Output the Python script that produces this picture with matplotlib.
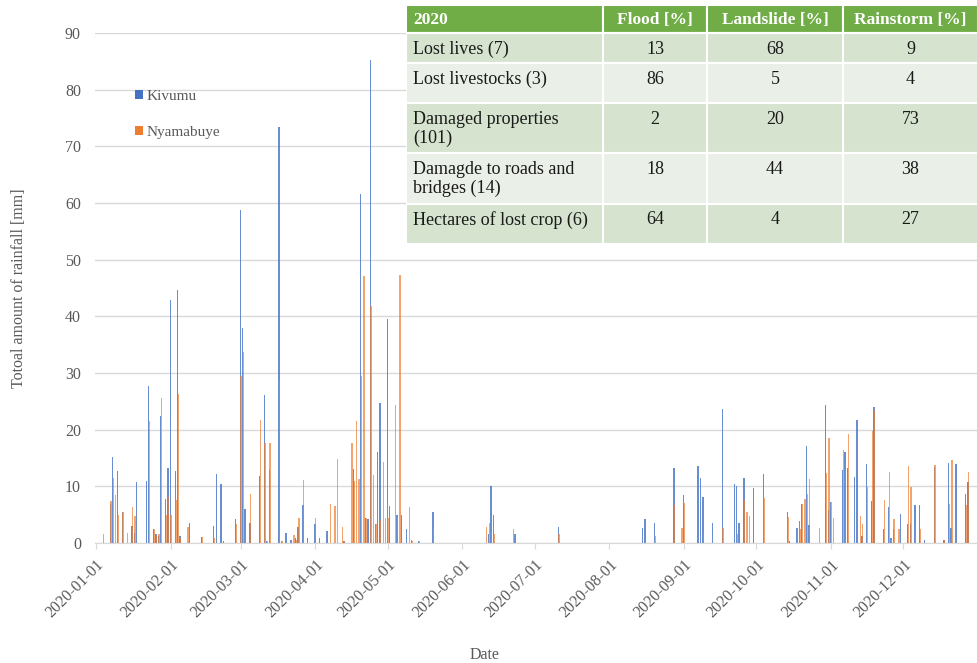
import matplotlib
matplotlib.use('Agg')
import matplotlib.pyplot as plt
import matplotlib.dates as mdates
from matplotlib.patches import Rectangle
import pandas as pd

plt.rcParams['font.family'] = ['Liberation Serif', 'DejaVu Serif']

# daily rainfall 2020 (only days with rain are listed)
dates = ['2020-01-04', '2020-01-07', '2020-01-08', '2020-01-09', '2020-01-10', '2020-01-12',
         '2020-01-14', '2020-01-16', '2020-01-17', '2020-01-18', '2020-01-22', '2020-01-23',
         '2020-01-25', '2020-01-26', '2020-01-27', '2020-01-28', '2020-01-30', '2020-01-31',
         '2020-02-01', '2020-02-03', '2020-02-04', '2020-02-05', '2020-02-08', '2020-02-09',
         '2020-02-14', '2020-02-19', '2020-02-20', '2020-02-22', '2020-02-23', '2020-02-28',
         '2020-03-01', '2020-03-02', '2020-03-03', '2020-03-05', '2020-03-09', '2020-03-11',
         '2020-03-12', '2020-03-13', '2020-03-17', '2020-03-18', '2020-03-20', '2020-03-22',
         '2020-03-23', '2020-03-24', '2020-03-25', '2020-03-27', '2020-03-29',
         '2020-04-01', '2020-04-03', '2020-04-06', '2020-04-07', '2020-04-09', '2020-04-10',
         '2020-04-12', '2020-04-13', '2020-04-16', '2020-04-17', '2020-04-18', '2020-04-19',
         '2020-04-20', '2020-04-21', '2020-04-22', '2020-04-23', '2020-04-24', '2020-04-25',
         '2020-04-26', '2020-04-27', '2020-04-28', '2020-04-29', '2020-04-30',
         '2020-05-01', '2020-05-02', '2020-05-04', '2020-05-05', '2020-05-06', '2020-05-07',
         '2020-05-09', '2020-05-10', '2020-05-11', '2020-05-14', '2020-05-20',
         '2020-06-11', '2020-06-12', '2020-06-13', '2020-06-14', '2020-06-22', '2020-06-23',
         '2020-07-11',
         '2020-08-15', '2020-08-16', '2020-08-20', '2020-08-28', '2020-08-31',
         '2020-09-01', '2020-09-07', '2020-09-08', '2020-09-09', '2020-09-13', '2020-09-17',
         '2020-09-22', '2020-09-23', '2020-09-24', '2020-09-26', '2020-09-27', '2020-09-28',
         '2020-09-30',
         '2020-10-04', '2020-10-14', '2020-10-15', '2020-10-18', '2020-10-19', '2020-10-20',
         '2020-10-21', '2020-10-22', '2020-10-23', '2020-10-27', '2020-10-30', '2020-10-31',
         '2020-11-01', '2020-11-02', '2020-11-06', '2020-11-07', '2020-11-08', '2020-11-11',
         '2020-11-12', '2020-11-13', '2020-11-14', '2020-11-16', '2020-11-18', '2020-11-19',
         '2020-11-23', '2020-11-25', '2020-11-26', '2020-11-27', '2020-11-29', '2020-11-30',
         '2020-12-03', '2020-12-04', '2020-12-06', '2020-12-08', '2020-12-10', '2020-12-14',
         '2020-12-18', '2020-12-20', '2020-12-21', '2020-12-23', '2020-12-27', '2020-12-28']

kivumu = [0, 6.8, 15.2, 0, 12.7, 5.5,
          0, 3.0, 1.8, 10.7, 11.0, 27.8,
          2.5, 1.5, 1.2, 22.5, 7.8, 13.3,
          42.9, 12.7, 44.7, 1.2, 0, 3.6,
          1.0, 3.0, 12.2, 10.5, 0.3, 4.3,
          58.8, 38.0, 6.0, 3.6, 11.8, 26.2,
          0.4, 12.9, 73.5, 0.3, 1.7, 0.5,
          0, 0.8, 2.8, 6.7, 0.8,
          3.4, 0.8, 2.2, 0, 0, 0,
          0, 0.3, 0, 13.0, 0, 0,
          61.6, 0, 4.5, 4.3, 85.3, 0,
          3.3, 16.0, 24.7, 0, 0,
          39.5, 6.5, 0, 4.9, 0, 4.9,
          2.4, 0, 0.6, 0.3, 5.4,
          0, 1.5, 10.0, 5.0, 0, 1.5,
          2.8,
          2.6, 4.2, 3.6, 13.3, 0,
          8.4, 13.6, 11.4, 8.2, 3.6, 23.6,
          10.4, 10.0, 3.6, 11.4, 0, 0,
          9.7,
          12.2, 5.5, 0.3, 2.6, 3.9, 6.8,
          0, 17.2, 3.2, 0, 24.4, 5.8,
          7.3, 0, 12.8, 16.1, 13.2, 11.6,
          21.7, 0, 1.2, 14.0, 7.4, 24.0,
          2.5, 6.4, 0.8, 2.5, 0, 5.2,
          3.3, 3.3, 6.7, 6.7, 0.6, 13.4,
          0.6, 14.1, 2.6, 13.9, 8.6, 10.7]

nyamabuye = [1.5, 7.5, 11.5, 8.5, 5.0, 5.5,
             1.8, 6.3, 4.8, 0, 0, 21.5,
             2.5, 1.2, 1.5, 25.6, 5.0, 8.2,
             5.0, 7.6, 26.3, 0.8, 2.8, 0,
             1.0, 0.8, 0, 0, 0, 3.4,
             29.4, 33.8, 3.0, 8.6, 21.7, 17.6,
             0.4, 17.6, 28.6, 0.3, 0, 0.6,
             1.4, 0.5, 4.5, 11.2, 0,
             4.5, 0, 0, 6.8, 6.5, 14.8,
             2.8, 0.3, 17.6, 11.0, 21.5, 11.3,
             29.5, 47.2, 4.5, 0, 41.8, 12.0,
             3.3, 0, 4.0, 14.3, 4.5,
             4.5, 0, 24.3, 4.5, 47.3, 0,
             0, 6.4, 0.4, 0.3, 2.5,
             2.8, 3.5, 2.0, 1.6, 2.4, 0,
             1.6,
             0, 0, 1.2, 6.7, 2.6,
             7.0, 0, 0, 1.6, 0, 2.6,
             0, 1.6, 0, 7.6, 5.5, 4.7,
             0,
             7.9, 4.6, 0, 2.6, 2.5, 6.8,
             7.8, 8.7, 11.3, 2.6, 12.4, 18.6,
             7.3, 4.5, 16.4, 13.0, 19.2, 0,
             0, 4.7, 3.3, 9.8, 19.7, 23.5,
             7.6, 12.6, 0.8, 4.2, 2.5, 0,
             13.6, 9.8, 3.3, 2.5, 0, 13.8,
             0.6, 6.8, 14.6, 0, 6.7, 12.5]

month_ticks = pd.date_range('2020-01-01', '2020-12-01', freq='MS')

# table in the top-right corner
table_header = ['2020', 'Flood [%]', 'Landslide [%]', 'Rainstorm [%]']
table_rows = ['Lost lives (7)', 'Lost livestocks (3)', 'Damaged properties\n(101)',
              'Damagde to roads and\nbridges (14)', 'Hectares of lost crop (6)']
flood = [13, 86, 2, 18, 64]
landslide = [68, 5, 20, 44, 4]
rainstorm = [9, 4, 73, 38, 27]

BLUE = '#4472C4'
ORANGE = '#ED7D31'
GREY = '#595959'

fig = plt.figure(figsize=(9.78, 6.63), dpi=100)
ax = fig.add_axes([0.097, 0.181, 0.903, 0.769])

x = mdates.date2num(pd.to_datetime(dates))
ax.bar(x - 0.15, kivumu, width=0.55, color=BLUE, alpha=0.8, label='Kivumu', zorder=2)
ax.bar(x + 0.15, nyamabuye, width=0.55, color=ORANGE, alpha=0.7, label='Nyamabuye', zorder=3)

ax.set_ylim(0, 90)
ax.set_yticks(range(0, 91, 10))
ax.set_xlim(mdates.date2num(pd.Timestamp('2020-01-01')) - 0.5,
            mdates.date2num(pd.Timestamp('2020-12-31')) + 1.0)
ax.set_xticks(mdates.date2num(month_ticks))
ax.set_xticklabels([d.strftime('%Y-%m-%d') for d in month_ticks], rotation=45,
                   ha='right', va='top', rotation_mode='anchor', fontsize=11.5, color=GREY)
ax.tick_params(axis='y', length=0, labelsize=11.5, labelcolor=GREY, pad=10)
ax.tick_params(axis='x', length=4, color='#D9D9D9', pad=6)
ax.grid(axis='y', color='#D9D9D9', linewidth=1, zorder=0)
ax.set_axisbelow(True)
for s in ['top', 'right', 'left']:
    ax.spines[s].set_visible(False)
ax.spines['bottom'].set_color('#D9D9D9')

fig.text(0.019, 0.565, 'Totoal amount of rainfall [mm]', rotation=90, ha='center', va='center',
         fontsize=11.5, color=GREY)
fig.text(0.495, 0.012, 'Date', ha='center', va='center', fontsize=11.5, color=GREY)

leg = ax.legend(loc='upper left', bbox_to_anchor=(0.03, 0.915), frameon=False,
                handlelength=0.5, handleheight=0.5, handletextpad=0.25,
                labelspacing=1.5, fontsize=11)
for t in leg.get_texts():
    t.set_color(GREY)
for h in leg.legend_handles:
    h.set_alpha(1)

# table
W, H = 978, 663
left, top = 406, 5
col_w = [197, 104, 136, 135]
row_h = [28, 30, 40, 50, 51, 40]
tab = fig.add_axes([left / W, 1 - (top + sum(row_h)) / H, sum(col_w) / W, sum(row_h) / H])
tab.set_xlim(0, sum(col_w))
tab.set_ylim(sum(row_h), 0)
tab.axis('off')

cells = [table_header] + [[table_rows[i], str(flood[i]), str(landslide[i]), str(rainstorm[i])]
                          for i in range(len(table_rows))]
y0 = 0
for r, row in enumerate(cells):
    x0 = 0
    if r == 0:
        fc = '#70AD47'
    elif r % 2 == 1:
        fc = '#D5E3CF'
    else:
        fc = '#EAF0E8'
    for c, txt in enumerate(row):
        tab.add_patch(Rectangle((x0, y0), col_w[c], row_h[r], facecolor=fc,
                                edgecolor='white', linewidth=1.5))
        tx = x0 + 7 if c == 0 else x0 + col_w[c] / 2
        if r == 0:
            tab.text(tx, y0 + row_h[r] / 2 + 1, txt, ha='left' if c == 0 else 'center',
                     va='center', color='white', fontweight='bold', fontsize=12.5)
        else:
            tab.text(tx, y0 + 7.5, txt, ha='left' if c == 0 else 'center', va='top',
                     color='#1a1a1a', fontsize=13, linespacing=1.2)
        x0 += col_w[c]
    y0 += row_h[r]

fig.savefig('out.png', dpi=100)
